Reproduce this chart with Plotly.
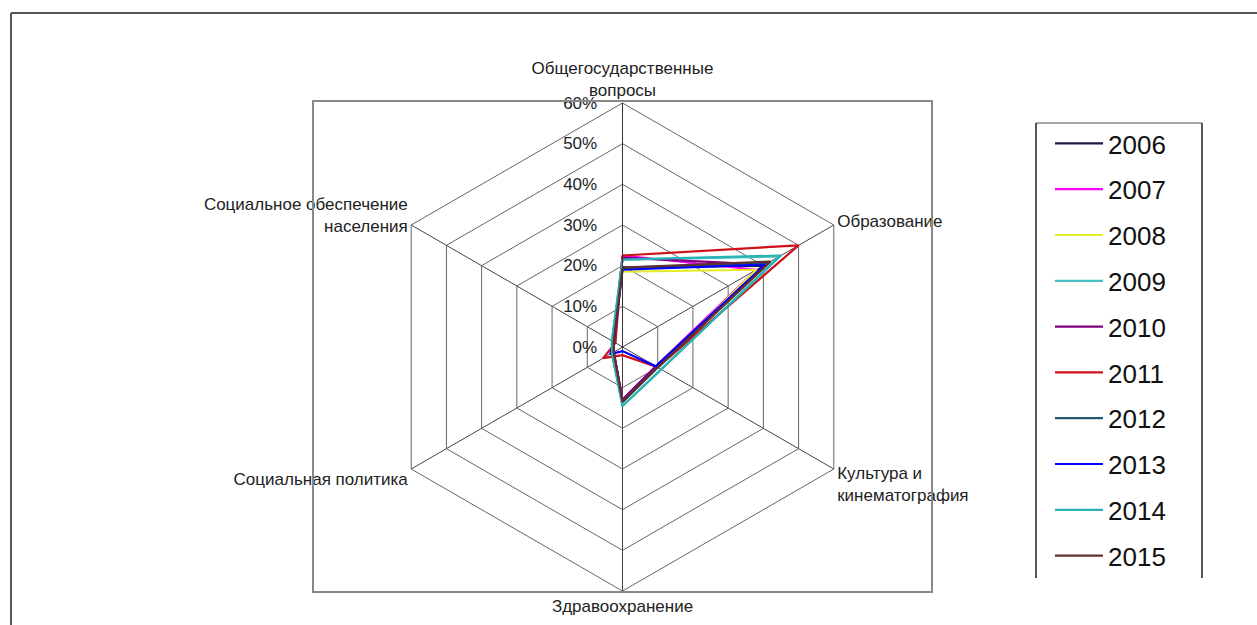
import plotly.graph_objects as go

# Axes of the radar (clockwise from the top)
categories = [
    "Общегосударственные<br>вопросы",
    "Образование",
    "Культура и<br>кинематография",
    "Здравоохранение",
    "Социальная политика",
    "Социальное обеспечение<br>населения",
]

years = ["2006", "2007", "2008", "2009", "2010",
         "2011", "2012", "2013", "2014", "2015"]

# Share of expenditures by item, %
v2006 = [19.5, 40.0, 9.5, 13.0, 2.5, 2.5]
v2007 = [22.5, 38.0, 9.5, 13.0, 2.5, 2.5]
v2008 = [18.5, 38.0, 10.0, 13.5, 3.0, 2.5]
v2009 = [21.5, 44.5, 11.0, 14.5, 3.0, 3.0]
v2010 = [22.0, 40.5, 9.5, 13.0, 2.5, 2.5]
v2011 = [22.5, 50.0, 10.0, 2.0, 5.5, 2.0]
v2012 = [19.5, 41.0, 10.0, 13.5, 3.0, 2.5]
v2013 = [19.0, 40.5, 9.5, 1.0, 3.5, 2.5]
v2014 = [21.5, 45.0, 11.0, 14.5, 3.0, 3.0]
v2015 = [19.5, 42.0, 10.0, 13.5, 2.5, 2.5]

series = [v2006, v2007, v2008, v2009, v2010,
          v2011, v2012, v2013, v2014, v2015]

colors = ["#1c1848", "#ff00ff", "#e4ec28", "#48c0c8", "#800080",
          "#d01018", "#205a70", "#0000ff", "#28b4b4", "#603030"]

radial_ticks = [0, 10, 20, 30, 40, 50, 60]
PAD = "\u00a0" * 4  # keeps the radial labels clear of the axis line

W, H = 1257, 625
FONT = "Liberation Sans, Arial, sans-serif"

fig = go.Figure()
for name, vals, col in zip(years, series, colors):
    fig.add_trace(go.Scatterpolar(
        r=vals + vals[:1],
        theta=categories + categories[:1],
        mode="lines",
        name=name,
        legendgroup=name,
        line=dict(color=col, width=2.2),
    ))

# centre at (622.5, 347) px, radius 244 px
cx, cy, R = 622.5, 347, 244
fig.update_layout(
    width=W, height=H,
    margin=dict(l=0, r=0, t=0, b=0),
    paper_bgcolor="white",
    plot_bgcolor="white",
    font=dict(family=FONT, color="#222222"),
    polar=dict(
        domain=dict(x=[(cx - R) / W, (cx + R) / W],
                    y=[(H - cy - R) / H, (H - cy + R) / H]),
        gridshape="linear",
        bgcolor="white",
        radialaxis=dict(
            range=[0, 60],
            tickvals=radial_ticks,
            ticktext=[f"{t}%{PAD}" for t in radial_ticks],
            angle=90,
            tickangle=90,
            side="counterclockwise",
            showline=True,
            linecolor="#333333",
            linewidth=1,
            gridcolor="#666666",
            gridwidth=1,
            ticks="",
            tickfont=dict(size=17, color="#222222"),
        ),
        angularaxis=dict(
            rotation=90,
            direction="clockwise",
            showline=True,
            linecolor="#666666",
            linewidth=1,
            gridcolor="#444444",
            gridwidth=1,
            ticks="",
            tickfont=dict(size=17, color="#222222"),
        ),
    ),
    legend=dict(
        x=1050 / W, y=1 - 120 / H,
        xanchor="left", yanchor="top",
        bgcolor="rgba(0,0,0,0)",
        font=dict(size=26, color="#111111"),
        itemwidth=48,
        tracegroupgap=9,
    ),
    showlegend=True,
)

shapes = [
    # outer frame
    dict(type="line", xref="paper", yref="paper", x0=11 / W, x1=1.0,
         y0=1 - 13 / H, y1=1 - 13 / H, line=dict(color="#555555", width=2)),
    dict(type="line", xref="paper", yref="paper", x0=11 / W, x1=11 / W,
         y0=0, y1=1 - 13 / H, line=dict(color="#555555", width=2)),
    # plot area border
    dict(type="rect", xref="paper", yref="paper", x0=313 / W, x1=932 / W,
         y0=1 - 592 / H, y1=1 - 101 / H, line=dict(color="#888888", width=2),
         layer="above"),
    # legend panel
    dict(type="rect", xref="paper", yref="paper", x0=1036 / W, x1=1202 / W,
         y0=1 - 578 / H, y1=1 - 123 / H, fillcolor="white",
         line=dict(width=0), layer="above"),
    dict(type="line", xref="paper", yref="paper", x0=1036 / W, x1=1202 / W,
         y0=1 - 123 / H, y1=1 - 123 / H, line=dict(color="#888888", width=1.5),
         layer="above"),
    dict(type="line", xref="paper", yref="paper", x0=1036 / W, x1=1036 / W,
         y0=1 - 578 / H, y1=1 - 123 / H, line=dict(color="#222222", width=1.5),
         layer="above"),
    dict(type="line", xref="paper", yref="paper", x0=1202 / W, x1=1202 / W,
         y0=1 - 578 / H, y1=1 - 123 / H, line=dict(color="#222222", width=1.5),
         layer="above"),
]
fig.update_layout(shapes=shapes)

fig.write_html("out.html")
